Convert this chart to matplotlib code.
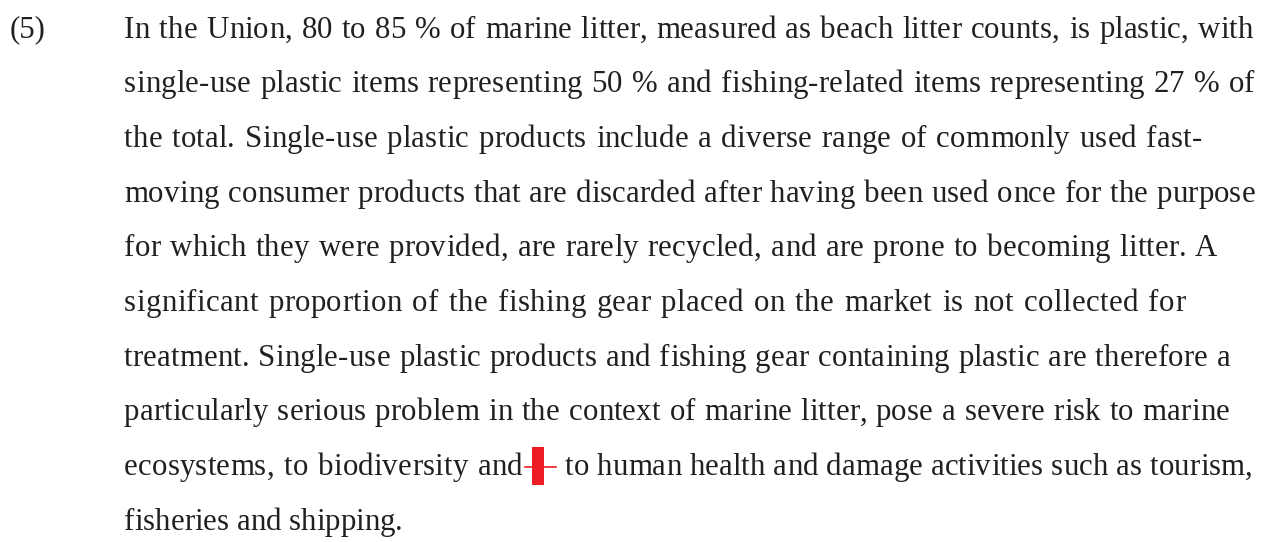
import matplotlib
matplotlib.use("Agg")
import matplotlib.pyplot as plt
from matplotlib.patches import Rectangle
from matplotlib.font_manager import FontProperties

# paragraph text, one entry per printed line
para_number = "(5)"
lines = [
    "In the Union, 80 to 85 % of marine litter, measured as beach litter counts, is plastic, with",
    "single-use plastic items representing 50 % and fishing-related items representing 27 % of",
    "the total. Single-use plastic products include a diverse range of commonly used fast-",
    "moving consumer products that are discarded after having been used once for the purpose",
    "for which they were provided, are rarely recycled, and are prone to becoming litter. A",
    "significant proportion of the fishing gear placed on the market is not collected for",
    "treatment. Single-use plastic products and fishing gear containing plastic are therefore a",
    "particularly serious problem in the context of marine litter, pose a severe risk to marine",
    "ecosystems, to biodiversity and",
    "fisheries and shipping.",
]
# text after the deletion mark on line 9
line9_tail = "to human health and damage activities such as tourism,"

# layout: right edge of each printed line in pixels (None = natural width)
line_right = [1257, 1257, 1205, 1257, 1220, 1190, 1232, 1232, 523, None]
tail_right = 1253

W, H = 1274, 542
fig = plt.figure(figsize=(W / 100, H / 100), dpi=100)
ax = fig.add_axes([0, 0, 1, 1])
ax.set_xlim(0, W)
ax.set_ylim(H, 0)
ax.axis("off")

fp = FontProperties(family="Liberation Serif", size=22.2)
ink = "#231f20"
x_num, x_text = 10, 124
y0, dy = 37.5, 54.7

r = fig.canvas.get_renderer()


def tw(s):
    return r.get_text_width_height_descent(s, fp, ismath=False)[0]


space_w = tw("n n") - 2 * tw("n")


def put_line(s, x0, y, right):
    words = s.split(" ")
    widths = [tw(w) for w in words]
    natural = sum(widths) + space_w * (len(words) - 1)
    nchar = len(s)
    extra = 0 if right is None else right - x0 - natural
    # half of the stretch goes to letter spacing, half to word spacing
    track = 0.5 * extra / max(nchar - 1, 1)
    gap = space_w + track + (0.5 * extra / max(len(words) - 1, 1))
    x = x0
    for w, wd in zip(words, widths):
        for k, ch in enumerate(w):
            ax.text(x + tw(w[:k]) + k * track if k else x, y, ch,
                    va="baseline", ha="left", fontproperties=fp, color=ink)
        x += wd + (len(w) - 1) * track + gap


ax.text(x_num, y0, para_number, va="baseline", ha="left", fontproperties=fp, color=ink)
for i, s in enumerate(lines):
    put_line(s, x_text, y0 + i * dy, line_right[i])

# red deletion mark after "and" on line 9
y9 = y0 + 8 * dy
x_end = line_right[8]
red = "#ed1c24"
ax.plot([x_end + 2, x_end + 33], [y9 - 8, y9 - 8], color=red, lw=1.2)
ax.add_patch(Rectangle((x_end + 9, y9 - 28), 12, 38, color=red, lw=0))
put_line(line9_tail, x_end + 42, y9, tail_right)

fig.savefig("out.png", dpi=100, facecolor="white")
